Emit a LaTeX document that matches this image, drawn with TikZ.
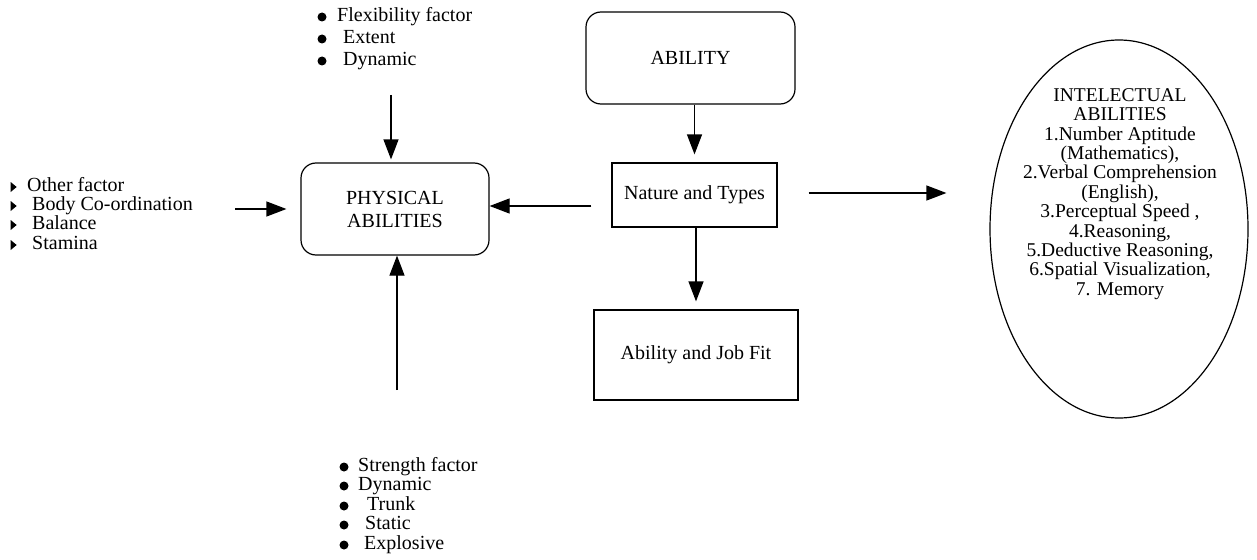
\documentclass[tikz,border=0pt]{standalone}
\usepackage{fontspec}
\setmainfont{Liberation Serif}
\usetikzlibrary{arrows.meta,shapes.geometric,calc}
\tikzset{
  every node/.style={font=\fontsize{20}{23}\selectfont},
  rbox/.style={draw, rounded corners=15pt, line width=1.2pt, inner sep=0pt, align=center},
  sbox/.style={draw, line width=1.2pt, inner sep=0pt, align=center},
  arr/.style={-{Triangle[length=20pt,width=15pt]}, line width=1.2pt},
  dot/.style={circle, fill, inner sep=0pt, minimum size=9pt},
  tri/.style={isosceles triangle, isosceles triangle stretches=true, fill, inner sep=0pt, minimum height=6pt, minimum width=10pt},
  item/.style={anchor=west, inner sep=0pt, text height=13pt, text depth=4pt},
  smalltext/.style={font=\fontsize{19.5}{19.4}\selectfont, align=center, inner sep=0pt}
}
\begin{document}
\begin{tikzpicture}[x=1pt,y=-1pt]
\useasboundingbox (0,0) rectangle (1257,559);

% main boxes
\node[rbox, minimum width=209pt, minimum height=92pt] (ability) at (690.5,58) {ABILITY};
\node[sbox, minimum width=165pt, minimum height=64pt] (nature) at (694.5,195) {Nature and Types};
\node[sbox, minimum width=204pt, minimum height=90pt] (job) at (696,355) {Ability and Job Fit};
\node[rbox, minimum width=188pt, minimum height=92pt] (phys) at (395,209) {PHYSICAL\\ABILITIES};
\node[draw, ellipse, line width=1.2pt, inner sep=0pt, minimum width=258pt, minimum height=378pt] (intel) at (1119,229) {};
\node[smalltext] (inteltext) at (1120,194) {INTELECTUAL\\ABILITIES\\1.Number Aptitude\\(Mathematics),\\2.Verbal Comprehension\\(English),\\3.Perceptual Speed ,\\4.Reasoning,\\5.Deductive Reasoning,\\6.Spatial Visualization,\\7. Memory};

% top list
\node[dot] (tb1) at (322,17) {};
\node[dot] (tb2) at (322,39) {};
\node[dot] (tb3) at (322,61) {};
\node[item] (tt1) at (337,17) {Flexibility factor};
\node[item] (tt2) at (343,39) {Extent};
\node[item] (tt3) at (343,61) {Dynamic};

% left list
\node[tri] (lb1) at (13,187) {};
\node[tri] (lb2) at (13,206) {};
\node[tri] (lb3) at (13,225) {};
\node[tri] (lb4) at (13,245) {};
\node[item] (lt1) at (27,187) {Other factor};
\node[item] (lt2) at (32,206) {Body Co-ordination};
\node[item] (lt3) at (32,225) {Balance};
\node[item] (lt4) at (32,245) {Stamina};

% bottom list
\node[dot] (bb1) at (344,467) {};
\node[dot] (bb2) at (344,486) {};
\node[dot] (bb3) at (344,506) {};
\node[dot] (bb4) at (344,525) {};
\node[dot] (bb5) at (344,545) {};
\node[item] (bt1) at (358,467) {Strength factor};
\node[item] (bt2) at (358,486) {Dynamic};
\node[item] (bt3) at (367,506) {Trunk};
\node[item] (bt4) at (365,525) {Static};
\node[item] (bt5) at (364,545) {Explosive};

% connectors
\coordinate (topTail) at (391,95);
\draw[arr, shorten >=3pt] (topTail) -- (topTail |- phys.north);
\coordinate (leftTail) at (235,209);
\draw[arr, shorten >=14pt] (leftTail) -- (leftTail -| phys.west);
\coordinate (botTail) at (397,390);
\draw[arr] (botTail) -- (botTail |- phys.south);
\coordinate (natL) at ($(nature.west)+(0,11)$);
\draw[arr, shorten <=20pt] (natL) -- (natL -| phys.east);
\draw[arr, shorten >=8pt] (nature.north |- ability.south) -- (nature.north);
\draw[arr, shorten >=8pt] (job.north |- nature.south) -- (job.north);
\coordinate (natR) at ($(nature.east)+(0,-2)$);
\draw[arr, shorten <=31pt, shorten >=43pt] (natR) -- (natR -| intel.west);
\end{tikzpicture}
\end{document}
